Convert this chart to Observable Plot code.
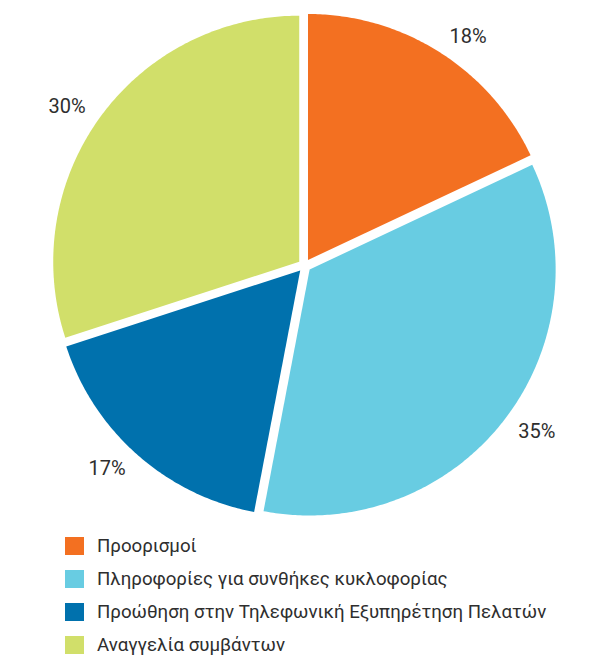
<!DOCTYPE html>
<html>
<head>
<meta charset="utf-8">
<script src="https://cdn.jsdelivr.net/npm/d3@7"></script>
<script src="https://cdn.jsdelivr.net/npm/@observablehq/plot@0.6"></script>
<style>
  html, body { margin: 0; padding: 0; background: #fff; }
  body { width: 589px; font-family: Roboto, "Noto Sans", sans-serif; }
  #chart svg { display: block; }
  #legend { margin-top: 0; padding-left: 65px; }
  .row { display: flex; align-items: center; height: 32.8px; font-size: 18.7px; color: #2e2e2e; white-space: nowrap; }
  .sw { width: 19px; height: 18px; margin-right: 13px; flex: none; }
</style>
</head>
<body>
<div id="chart"></div>
<div id="legend"></div>
<script>
const categories = [
  "Προορισμοί",
  "Πληροφορίες για συνθήκες κυκλοφορίας",
  "Προώθηση στην Τηλεφωνική Εξυπηρέτηση Πελατών",
  "Αναγγελία συμβάντων"
];
const values = [18, 35, 17, 30];
const valueLabels = ["18%", "35%", "17%", "30%"];
const colors = ["#f37021", "#68cce2", "#0071ad", "#d1df6a"];

// layout (pixels)
const W = 589, H = 530, R = 246, CX = 304, CY = 265;
const explode = 6.5 / R;   // slice offset in radius units
const labelR = 1.1;

const arcs = d3.pie().sort(null).value(d => d)(values);

const slicePts = [];
arcs.forEach((a, i) => {
  const mid = (a.startAngle + a.endAngle) / 2;
  const ox = explode * Math.sin(mid), oy = explode * Math.cos(mid);
  slicePts.push({k: categories[i], x: ox, y: oy});
  const n = Math.max(2, Math.ceil((a.endAngle - a.startAngle) / 0.01));
  for (let j = 0; j <= n; j++) {
    const t = a.startAngle + (a.endAngle - a.startAngle) * j / n;
    slicePts.push({k: categories[i], x: ox + Math.sin(t), y: oy + Math.cos(t)});
  }
  slicePts.push({k: categories[i], x: ox, y: oy});
});

const labels = arcs.map((a, i) => {
  const mid = (a.startAngle + a.endAngle) / 2;
  return {text: valueLabels[i], x: labelR * Math.sin(mid), y: labelR * Math.cos(mid), right: Math.sin(mid) >= 0};
});

const chart = Plot.plot({
  width: W,
  height: H,
  margin: 0,
  x: {domain: [-CX / R, (W - CX) / R], axis: null},
  y: {domain: [-(H - CY) / R, CY / R], axis: null},
  color: {domain: categories, range: colors},
  style: {fontFamily: "Roboto, 'Noto Sans', sans-serif", background: "#fff"},
  marks: [
    Plot.line(slicePts, {x: "x", y: "y", z: "k", fill: "k", stroke: null, curve: "linear"}),
    Plot.text(labels.filter(d => d.right), {x: "x", y: "y", text: "text", textAnchor: "start", fontSize: 20, fill: "#2e2e2e"}),
    Plot.text(labels.filter(d => !d.right), {x: "x", y: "y", text: "text", textAnchor: "end", fontSize: 20, fill: "#2e2e2e"})
  ]
});
document.getElementById("chart").appendChild(chart);

const legend = document.getElementById("legend");
categories.forEach((c, i) => {
  const row = document.createElement("div");
  row.className = "row";
  const sw = document.createElement("span");
  sw.className = "sw";
  sw.style.background = colors[i];
  const tx = document.createElement("span");
  tx.textContent = c;
  row.appendChild(sw);
  row.appendChild(tx);
  legend.appendChild(row);
});
</script>
</body>
</html>
